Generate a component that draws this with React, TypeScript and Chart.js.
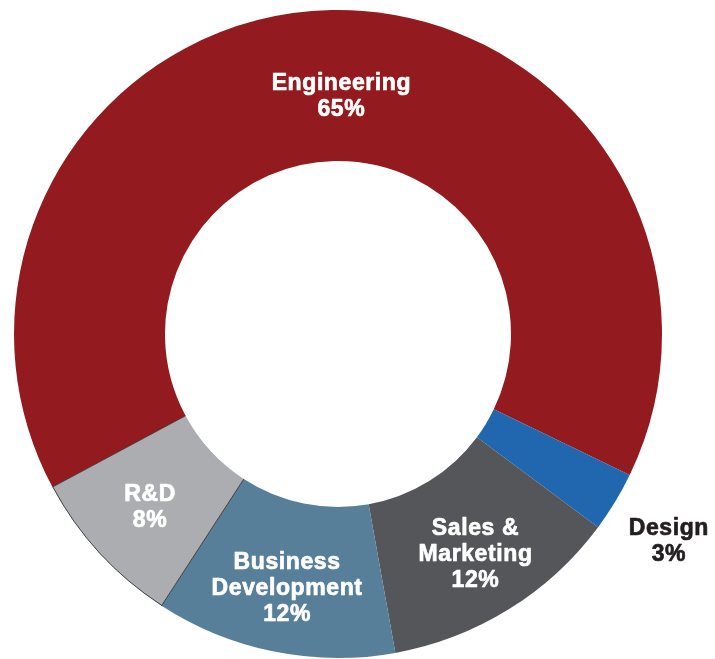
import React, { useEffect, useRef } from "react";
import { Chart, registerables } from "chart.js";

Chart.register(...registerables);

const categories = ["Engineering", "Design", "Sales & Marketing", "Business Development", "R&D"];
const labelLines = [["Engineering"], ["Design"], ["Sales &", "Marketing"], ["Business", "Development"], ["R&D"]];
const shares = [65, 3, 12, 12, 8];
const colors = ["#931A1E", "#2167B0", "#54565A", "#577F99", "#ACADB0"];
const textColors = ["#FFFFFF", "#231F20", "#FFFFFF", "#FFFFFF", "#FFFFFF"];
const labelRadius = [237, 390, 260, 260, 256];
const labelAngleOffset = [1.9, 0.9, 0, 0, 0];
const outlinedSlice = 4;

const labelPlugin = {
  id: "sliceLabels",
  afterDatasetsDraw(chart: any) {
    const { ctx } = chart;
    const meta = chart.getDatasetMeta(0);
    ctx.save();
    // thin dark outline on the R&D slice (outer arc and radial edges)
    const a = meta.data[outlinedSlice];
    if (a) {
      const p = a.getProps(["x", "y", "startAngle", "endAngle", "innerRadius", "outerRadius"], true);
      ctx.strokeStyle = "rgba(30,30,30,0.85)";
      ctx.lineWidth = 0.9;
      ctx.beginPath();
      ctx.moveTo(p.x + Math.cos(p.startAngle) * p.innerRadius, p.y + Math.sin(p.startAngle) * p.innerRadius);
      ctx.lineTo(p.x + Math.cos(p.startAngle) * p.outerRadius, p.y + Math.sin(p.startAngle) * p.outerRadius);
      ctx.arc(p.x, p.y, p.outerRadius - 0.4, p.startAngle, p.endAngle);
      ctx.lineTo(p.x + Math.cos(p.endAngle) * p.innerRadius, p.y + Math.sin(p.endAngle) * p.innerRadius);
      ctx.stroke();
    }
    ctx.font = "bold 23px 'Liberation Sans', Arial, sans-serif";
    try { (ctx as any).letterSpacing = "0.6px"; } catch (e) {}
    ctx.textAlign = "center";
    ctx.textBaseline = "middle";
    ctx.lineJoin = "round";
    meta.data.forEach((arc: any, i: number) => {
      const { x, y, startAngle, endAngle } = arc.getProps(["x", "y", "startAngle", "endAngle"], true);
      const mid = (startAngle + endAngle) / 2 + (labelAngleOffset[i] * Math.PI) / 180;
      const r = labelRadius[i];
      const cx = x + Math.cos(mid) * r;
      const cy = y + Math.sin(mid) * r;
      const lines = [...labelLines[i], shares[i] + "%"];
      const lh = 26;
      ctx.fillStyle = textColors[i];
      ctx.strokeStyle = textColors[i];
      ctx.lineWidth = 0.7;
      lines.forEach((t, k) => {
        const ly = cy + (k - (lines.length - 1) / 2) * lh;
        ctx.fillText(t, cx + 0.5, ly);
        ctx.strokeText(t, cx + 0.5, ly);
      });
    });
    ctx.restore();
  },
};

export default function App() {
  const ref = useRef<HTMLCanvasElement>(null);
  useEffect(() => {
    const chart = new Chart(ref.current!, {
      type: "doughnut",
      data: {
        labels: categories,
        datasets: [
          {
            data: shares,
            backgroundColor: colors,
            borderWidth: 0,
          },
        ],
      },
      options: {
        responsive: false,
        animation: false,
        rotation: -118.2,
        cutout: "53.4%",
        layout: { padding: { left: 0, right: 39, top: 10, bottom: 1 } },
        plugins: {
          legend: { display: false },
          tooltip: { enabled: false },
        },
      },
      plugins: [labelPlugin],
    });
    return () => chart.destroy();
  }, []);
  return (
    <div style={{ position: "fixed", left: 0, top: 0, width: 715, height: 659, background: "#fff" }}>
      <canvas ref={ref} width={715} height={659} />
    </div>
  );
}
